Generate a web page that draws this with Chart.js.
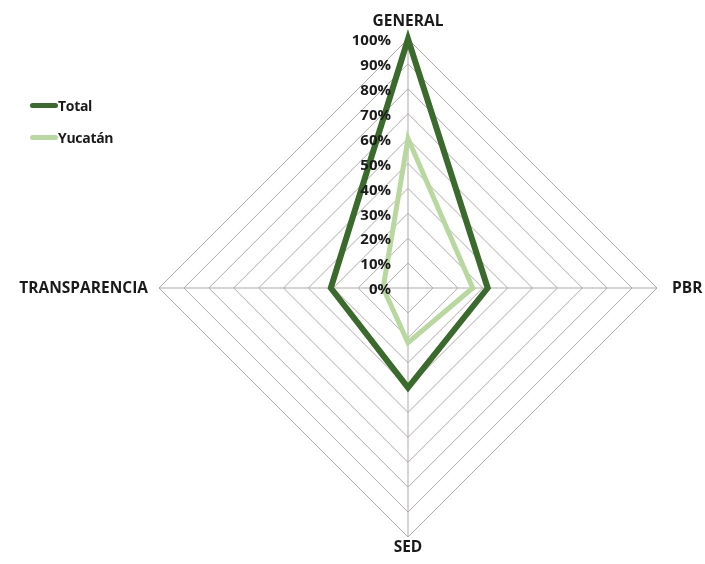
<!DOCTYPE html>
<html>
  <head>
    <title>Radar - General / PBR / SED / Transparencia</title>
    <script src="https://cdn.jsdelivr.net/npm/chart.js"></script>
    <style>
      body {
        margin: 0;
        background: #ffffff;
        font-family: "Open Sans", Lato, sans-serif;
      }
      .wrap {
        position: relative;
        width: 705px;
        height: 564px;
      }
      #legend {
        position: absolute;
        left: 30px;
        top: 89px;
        font-weight: bold;
        font-size: 14px;
        color: #1a1a1a;
        letter-spacing: -0.3px;
      }
      .item {
        display: flex;
        align-items: center;
        height: 32px;
      }
      .swatch {
        width: 28px;
        height: 5px;
        border-radius: 3px;
      }
    </style>
  </head>
  <body>
    <div class="wrap">
      <canvas id="chart" width="705" height="564"></canvas>
      <div id="legend"></div>
    </div>

    <script>
      // datos
      const categorias = ["GENERAL", "PBR", "SED", "TRANSPARENCIA"];
      const total = [100, 32, 40, 31];
      const yucatan = [60, 26, 22, 10];
      const ticks = [0, 10, 20, 30, 40, 50, 60, 70, 80, 90, 100];

      const verdeOscuro = "#3b6a2d";
      const verdeClaro = "#b9d89f";
      const gris = "#b3a9a9";
      const fuente = "'Open Sans', Lato, sans-serif";

      // porcentajes a la izquierda del eje vertical + nombres de los ejes
      const etiquetas = {
        id: "etiquetas",
        afterDatasetsDraw(chart) {
          const r = chart.scales.r;
          const ctx = chart.ctx;
          ctx.save();
          ctx.fillStyle = "#1a1a1a";

          ctx.font = "bold 15px " + fuente;
          ctx.textAlign = "right";
          ctx.textBaseline = "middle";
          ticks.forEach((v) => {
            const d = r.getDistanceFromCenterForValue(v);
            ctx.fillText(v + "%", r.xCenter - 17, r.yCenter - d + 2);
          });

          ctx.font = "bold 15.5px " + fuente;
          const alin = [
            ["center", "bottom", 10],
            ["left", "middle", 15],
            ["center", "top", 3],
            ["right", "middle", 11],
          ];
          categorias.forEach((c, i) => {
            const p = r.getPointPosition(i, r.drawingArea + alin[i][2]);
            ctx.textAlign = alin[i][0];
            ctx.textBaseline = alin[i][1];
            ctx.fillText(c, p.x, p.y + (i % 2 ? 1 : 0));
          });
          ctx.restore();
        },
      };

      const chart = new Chart(document.getElementById("chart"), {
        type: "radar",
        data: {
          labels: categorias,
          datasets: [
            {
              label: "Total",
              data: total,
              borderColor: verdeOscuro,
              backgroundColor: "transparent",
              borderWidth: 6,
              borderJoinStyle: "miter",
              pointRadius: 0,
              fill: false,
            },
            {
              label: "Yucatán",
              data: yucatan,
              borderColor: verdeClaro,
              backgroundColor: "transparent",
              borderWidth: 5,
              borderJoinStyle: "miter",
              pointRadius: 0,
              fill: false,
            },
          ],
        },
        options: {
          responsive: false,
          animation: false,
          layout: { padding: { top: 39, bottom: 26, left: 159, right: 48 } },
          plugins: {
            legend: { display: false },
            tooltip: { enabled: false },
          },
          scales: {
            r: {
              min: 0,
              max: 100,
              ticks: { stepSize: 10, display: false },
              grid: { color: gris, lineWidth: 1 },
              angleLines: { color: gris, lineWidth: 1 },
              pointLabels: { display: false },
            },
          },
        },
        plugins: [etiquetas],
      });

      // leyenda
      const legend = document.getElementById("legend");
      chart.data.datasets.forEach((ds) => {
        const item = document.createElement("div");
        item.className = "item";
        item.innerHTML =
          '<span class="swatch" style="background:' + ds.borderColor + '"></span>' + ds.label;
        legend.appendChild(item);
      });
    </script>
  </body>
</html>
